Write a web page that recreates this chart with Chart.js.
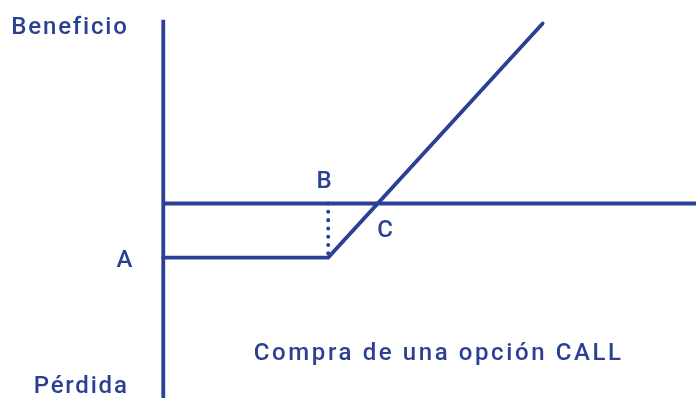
<!DOCTYPE html>
<html>
  <head>
    <title>Compra de una opción CALL</title>
    <script src="https://cdn.jsdelivr.net/npm/chart.js@4"></script>
    <style>
      html, body { margin: 0; padding: 0; background: #fff; }
      #container { width: 696px; height: 398px; position: relative; }
    </style>
  </head>
  <body>
    <div id="container">
      <canvas id="canvas"></canvas>
    </div>
    <script>
      // payoff of a long call: strike 100, premium 30
      const prices = [0, 100, 230];
      const payoff = [-30, -30, 100];
      // axes of the diagram
      const axisY = [102, -110];
      const axisX = [0, 323];
      // dotted drop from the strike to the zero line
      const strikeDrop = [0, -30];

      // text labels, in data units
      const labels = [
        { text: 'Beneficio', x: -21, y: 97.5, align: 'right' },
        { text: 'Pérdida', x: -21, y: -102, align: 'right' },
        { text: 'A', x: -23, y: -32, align: 'center' },
        { text: 'B', x: 98, y: 12, align: 'center' },
        { text: 'C', x: 135, y: -15, align: 'center' },
        { text: 'Compra de una opción CALL', x: 167, y: -83.5, align: 'center', spacing: '2.6px' },
      ];

      const blue = '#2b3f94';

      const labelPlugin = {
        id: 'labels',
        afterDatasetsDraw(chart) {
          const { ctx, scales } = chart;
          ctx.save();
          ctx.fillStyle = blue;
          ctx.font = '500 24px Roboto';
          ctx.textBaseline = 'middle';
          labels.forEach((l) => {
            ctx.letterSpacing = l.spacing || '1.8px';
            ctx.textAlign = l.align;
            ctx.fillText(l.text, scales.x.getPixelForValue(l.x), scales.y.getPixelForValue(l.y));
          });
          ctx.restore();
        },
      };

      window.onload = () => {
        const ctx = document.getElementById('canvas').getContext('2d');
        new Chart(ctx, {
          type: 'scatter',
          data: {
            datasets: [
              {
                data: axisY.map((y) => ({ x: 0, y })),
                borderWidth: 3.8,
              },
              {
                data: axisX.map((x) => ({ x, y: 0 })),
                borderWidth: 3.8,
              },
              {
                data: strikeDrop.map((y) => ({ x: prices[1], y })),
                borderWidth: 4,
                borderDash: [0.01, 8.3],
                borderCapStyle: 'round',
              },
              {
                data: prices.map((x, i) => ({ x, y: payoff[i] })),
                borderWidth: 3.8,
                borderCapStyle: 'round',
              },
            ].map((d) => ({ showLine: true, pointRadius: 0, borderColor: blue, ...d })),
          },
          options: {
            responsive: true,
            maintainAspectRatio: false,
            animation: false,
            layout: { padding: 0 },
            plugins: { legend: { display: false }, tooltip: { enabled: false } },
            scales: {
              x: { type: 'linear', display: false, min: -99, max: 323 },
              y: { type: 'linear', display: false, min: -108, max: 113 },
            },
          },
          plugins: [labelPlugin],
        });
      };
    </script>
  </body>
</html>
